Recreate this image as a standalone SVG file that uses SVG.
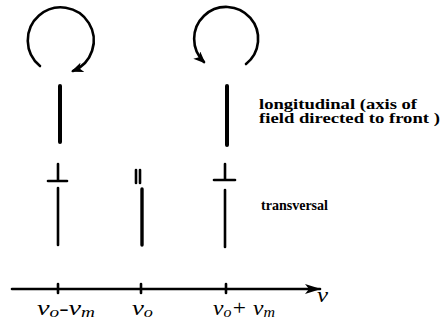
<svg xmlns="http://www.w3.org/2000/svg" width="445" height="321" viewBox="0 0 445 321">
<defs>
<style>
.c{fill:none;stroke:#000;stroke-width:2.6;stroke-linecap:round}
.b{stroke:#000;stroke-width:4;stroke-linecap:round}
.t{stroke:#000;stroke-width:2.6;stroke-linecap:round}
.lbl{font-family:"Liberation Serif",serif;font-weight:bold;font-size:14px;fill:#000}
.m{font-family:"Liberation Serif",serif;font-style:italic;font-size:22px;fill:#000}
.s{font-size:15px}
</style>
<marker id="ah" viewBox="0 0 12 10" refX="10" refY="5" markerWidth="12" markerHeight="10" markerUnits="userSpaceOnUse" orient="auto">
<path d="M0,0 L12,5 L0,10 L3,5 Z" fill="#000"/>
</marker>
<marker id="ax" viewBox="0 0 16 10" refX="15" refY="5" markerWidth="16" markerHeight="10" markerUnits="userSpaceOnUse" orient="auto">
<path d="M0,0 L16,5 L0,10 L4,5 Z" fill="#000"/>
</marker>
</defs>
<g id="connectors">
<path id="rot-left" class="c" d="M40,66 A33,33 0 1 1 73,71" marker-end="url(#ah)"/>
<path id="rot-right" class="c" d="M246,64 A32,32 0 1 0 204,62" marker-end="url(#ah)"/>
<line id="axis" class="t" x1="12" y1="289" x2="320" y2="289" marker-end="url(#ax)"/>
<line class="t" x1="58" y1="284" x2="58" y2="293"/>
<line class="t" x1="141" y1="284" x2="141" y2="293"/>
<line class="t" x1="226" y1="284" x2="226" y2="293"/>
</g>
<g id="long-left"><line class="b" x1="60" y1="86" x2="60" y2="142"/></g>
<g id="long-right"><line class="b" x1="227" y1="86" x2="227" y2="145"/></g>
<g id="trans-left">
<line class="t" x1="58" y1="164" x2="58" y2="180"/>
<line class="t" x1="48" y1="181" x2="67" y2="181"/>
<line class="t" x1="58" y1="188" x2="58" y2="245"/>
</g>
<g id="trans-mid">
<line class="t" x1="136" y1="170" x2="136" y2="183"/>
<line class="t" x1="140" y1="170" x2="140" y2="183"/>
<line class="b" x1="142" y1="189" x2="142" y2="245" style="stroke-width:3.4"/>
</g>
<g id="trans-right">
<line class="t" x1="225" y1="164" x2="225" y2="179"/>
<line class="t" x1="214" y1="180" x2="235" y2="180"/>
<line class="t" x1="225" y1="190" x2="225" y2="247"/>
</g>
<g id="labels">
<text class="lbl" x="259" y="109" textLength="158" lengthAdjust="spacingAndGlyphs">longitudinal (axis of</text>
<text class="lbl" x="259" y="123" textLength="181" lengthAdjust="spacingAndGlyphs">field directed to front )</text>
<text class="lbl" x="261" y="210" textLength="67" lengthAdjust="spacingAndGlyphs">transversal</text>
<text class="m" x="317" y="302" textLength="11" lengthAdjust="spacingAndGlyphs">ν</text>
<text class="m" x="37" y="315" textLength="58" lengthAdjust="spacingAndGlyphs">ν<tspan class="s" dy="2">o</tspan><tspan dy="-2">-ν</tspan><tspan class="s" dy="2">m</tspan></text>
<text class="m" x="132" y="315" textLength="21" lengthAdjust="spacingAndGlyphs">ν<tspan class="s" dy="2">o</tspan></text>
<text class="m" x="213" y="315" textLength="62" lengthAdjust="spacingAndGlyphs">ν<tspan class="s" dy="2">o</tspan><tspan dy="-2">+ ν</tspan><tspan class="s" dy="2">m</tspan></text>
</g>
</svg>
